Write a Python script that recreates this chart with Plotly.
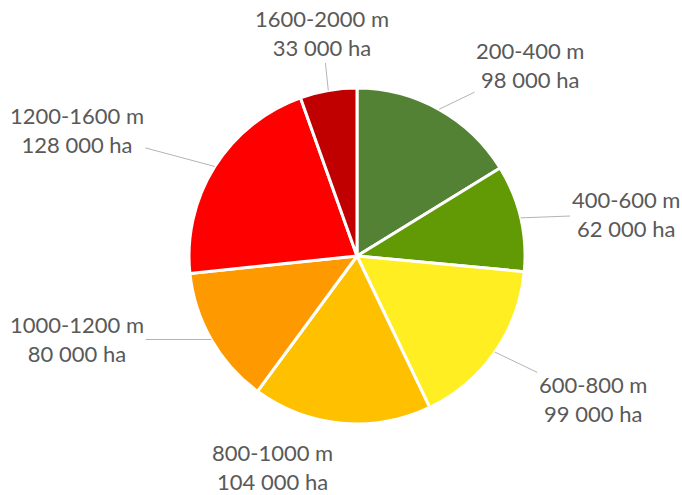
import math
import plotly.graph_objects as go

# Data
categories = ["200-400 m", "400-600 m", "600-800 m", "800-1000 m",
              "1000-1200 m", "1200-1600 m", "1600-2000 m"]
areas_ha = [98000, 62000, 99000, 104000, 80000, 128000, 33000]
area_labels = ["98 000 ha", "62 000 ha", "99 000 ha", "104 000 ha",
               "80 000 ha", "128 000 ha", "33 000 ha"]

# Style
colors = ["#548235", "#629a06", "#ffee22", "#ffc000", "#ff9900", "#ff0000", "#c00000"]
W, H = 682, 495
CX, CY, R = 357, 256, 168          # pie centre / radius in pixels
label_offsets = [(91, -44), (105, -4), (98, 47), (-69, 44),
                 (-134, 0), (-138, -37), (-6, -57)]
show_leader = [True, True, True, False, True, True, True]

fig = go.Figure()
fig.add_trace(go.Pie(
    labels=categories,
    values=areas_ha,
    sort=False,
    direction="clockwise",
    rotation=0,
    marker=dict(colors=colors, line=dict(color="white", width=3)),
    textinfo="none",
    hoverinfo="label+value",
    showlegend=False,
    domain=dict(x=[(CX - R) / W, (CX + R) / W],
                y=[(H - CY - R) / H, (H - CY + R) / H]),
))

total = sum(areas_ha)
cum = 0
annotations = []
for i, v in enumerate(areas_ha):
    mid = (cum + v / 2) / total * 2 * math.pi
    cum += v
    px = CX + R * math.sin(mid)
    py = CY - R * math.cos(mid)
    ax, ay = label_offsets[i]
    annotations.append(dict(
        x=px / W, y=1 - py / H, xref="paper", yref="paper",
        text=f"{categories[i]}<br>{area_labels[i]}",
        showarrow=True, arrowhead=0, arrowwidth=1,
        arrowcolor="#b4b4b4" if show_leader[i] else "rgba(0,0,0,0)",
        ax=ax, ay=ay, standoff=0,
        font=dict(family="Lato", size=22, color="#595959"),
        align="center",
    ))

fig.update_layout(
    width=W, height=H,
    margin=dict(l=0, r=0, t=0, b=0),
    paper_bgcolor="white",
    plot_bgcolor="white",
    annotations=annotations,
)

fig.write_html("out.html")
